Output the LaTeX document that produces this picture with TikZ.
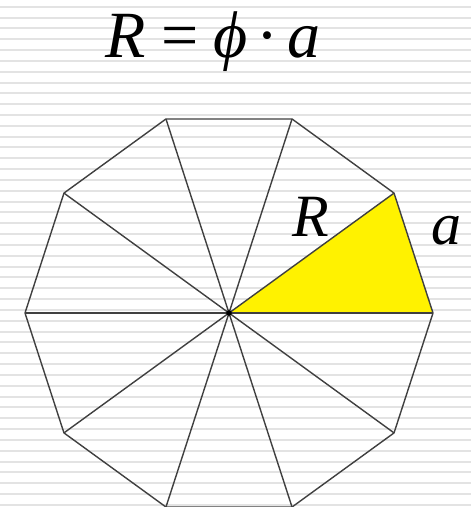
\documentclass[tikz,border=0pt]{standalone}
\usepackage{fontspec}
\setmainfont{Liberation Serif}
\begin{document}
\begin{tikzpicture}[x=1pt,y=1pt,
  edge/.style={draw=black!75, line width=1.4pt, line join=round},
  stripe/.style={draw=black!11, line width=2pt},
  bigtxt/.style={inner sep=0pt, anchor=base west, font=\fontsize{66}{70}\selectfont},
  lbltxt/.style={inner sep=0pt, anchor=base west, font=\fontsize{60}{64}\selectfont\itshape}]
\useasboundingbox (0,0) rectangle (471,507);
\fill[white] (0,0) rectangle (471,507);
\foreach \i in {0,...,46}
  \draw[stripe] (0,{507-6.7-10.83*\i}) -- (471,{507-6.7-10.83*\i});
\coordinate (O) at (229,194);
\foreach \k in {0,...,9}
  \path (O) ++({36*\k}:204) coordinate (v\k);
\fill[yellow] (O) -- (v0) -- (v1) -- cycle;
\foreach \k in {0,...,9}
  \draw[edge] (O) -- (v\k);
\draw[edge] (v0) -- (v1) -- (v2) -- (v3) -- (v4) -- (v5) -- (v6) -- (v7) -- (v8) -- (v9) -- cycle;
\fill[black] (O) circle (2.8);
\node[bigtxt] (formula) at (105,449) {\textit{R}\hspace{0.24em}=\hspace{0.22em}\textit{ϕ}\hspace{0.14em}·\hspace{0.14em}\textit{a}};
\node[lbltxt] (Rlab) at (292,270) {R};
\node[lbltxt] (alab) at (431,262) {a};
\end{tikzpicture}
\end{document}
